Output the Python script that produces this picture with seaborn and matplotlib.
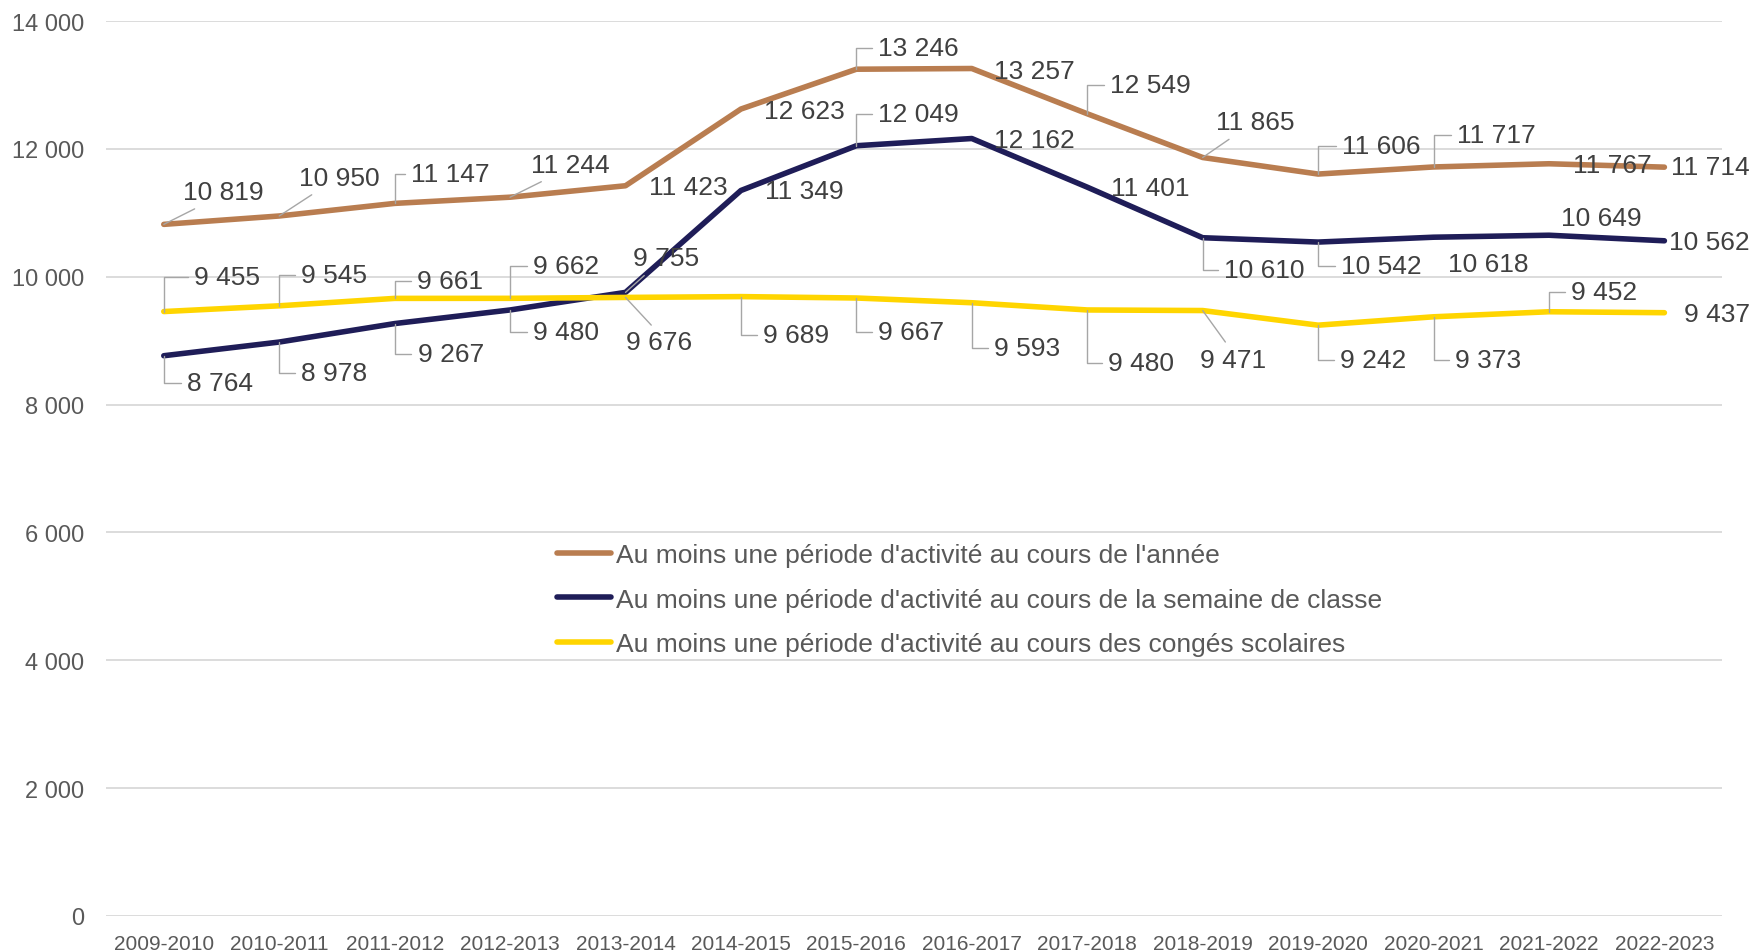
import matplotlib
matplotlib.use('Agg')
import pandas as pd
import matplotlib.pyplot as plt
import seaborn as sns
from matplotlib.ticker import FuncFormatter

# données
saisons = ['2009-2010', '2010-2011', '2011-2012', '2012-2013', '2013-2014', '2014-2015', '2015-2016',
           '2016-2017', '2017-2018', '2018-2019', '2019-2020', '2020-2021', '2021-2022', '2022-2023']
annee = [10819, 10950, 11147, 11244, 11423, 12623, 13246, 13257, 12549, 11865, 11606, 11717, 11767, 11714]
semaine = [8764, 8978, 9267, 9480, 9755, 11349, 12049, 12162, 11401, 10610, 10542, 10618, 10649, 10562]
conges = [9455, 9545, 9661, 9662, 9676, 9689, 9667, 9593, 9480, 9471, 9242, 9373, 9452, 9437]

noms = ["Au moins une période d'activité au cours de l'année",
        "Au moins une période d'activité au cours de la semaine de classe",
        "Au moins une période d'activité au cours des congés scolaires"]
couleurs = ['#B97D50', '#1F1D58', '#FFD500']

# placement des étiquettes : (dx, dy) en pixels, type de trait de rappel
pos_annee = [(60, 32, 'd'), (60, 38, 'd'), (56, 29, 'e'), (60, 32, 'd'), (63, -1, None), (63, -2, None),
             (62, 21, 'e'), (63, -2, None), (63, 29, 'e'), (53, 35, 'd'), (63, 28, 'e'), (63, 32, 'e'),
             (63, -1, None), (46, 0, None)]
pos_semaine = [(56, -27, 'e'), (55, -31, 'e'), (56, -30, 'e'), (56, -22, 'e'), (41, 34, 'd'), (63, -1, None),
               (62, 32, 'e'), (63, -1, None), (63, -1, None), (62, -32, 'e'), (63, -24, 'e'), (55, -27, None),
               (52, 17, None), (45, -1, None)]
pos_conges = [(63, 35, 'e'), (55, 31, 'e'), (55, 17, 'e'), (56, 32, 'e'), (34, -45, 'd'), (55, -38, 'e'),
              (55, -34, 'e'), (55, -45, 'e'), (54, -53, 'e'), (30, -49, 'd'), (55, -35, 'e'), (55, -43, 'e'),
              (55, 20, 'e'), (53, -1, None)]

sns.set_theme(style='white')
plt.rcParams['font.family'] = ['Liberation Sans', 'DejaVu Sans']

df = pd.DataFrame({'saison': saisons, noms[0]: annee, noms[1]: semaine, noms[2]: conges})
df = df.melt(id_vars='saison', var_name='serie', value_name='valeur')

fig = plt.figure(figsize=(17.56, 9.53), dpi=100)
ax = fig.add_axes([0.0604, 0.0378, 0.9203, 0.9391])

sns.lineplot(data=df, x='saison', y='valeur', hue='serie', hue_order=noms, palette=couleurs,
             linewidth=4, sort=False, ax=ax, solid_capstyle='round')

ax.set_xlim(-0.5, len(saisons) - 0.5)
ax.set_ylim(0, 14000)
ax.set_yticks(range(0, 14001, 2000))
ax.yaxis.set_major_formatter(FuncFormatter(lambda v, p: f"{int(v):,}".replace(",", " ")))
ax.grid(axis='y', color='#d9d9d9', linewidth=1.3)
ax.set_axisbelow(True)
for s in ax.spines.values():
    s.set_visible(False)
ax.set_xlabel('')
ax.set_ylabel('')
ax.tick_params(axis='y', length=0, pad=16, labelsize=17, labelcolor='#595959')
ax.tick_params(axis='x', length=0, pad=13, labelsize=15, labelcolor='#595959')

# étiquettes de données
for valeurs, positions in [(annee, pos_annee), (semaine, pos_semaine), (conges, pos_conges)]:
    for i, (v, (dx, dy, trait)) in enumerate(zip(valeurs, positions)):
        props = None
        if trait == 'e':
            props = dict(arrowstyle='-', color='#a6a6a6', lw=1, shrinkA=2, shrinkB=0,
                         relpos=(0, 0.5), connectionstyle='angle,angleA=0,angleB=90,rad=0')
        elif trait == 'd':
            props = dict(arrowstyle='-', color='#a6a6a6', lw=1, shrinkA=2, shrinkB=0,
                         relpos=(0.25, 0) if dy > 0 else (0.45, 1))
        ax.annotate(f"{v:,}".replace(",", " "), xy=(i, v), xytext=(dx, dy), textcoords='offset pixels',
                    ha='center', va='center', fontsize=19, color='#404040', arrowprops=props)

handles, labels = ax.get_legend_handles_labels()
leg = ax.legend(handles, labels, loc='center left', bbox_to_anchor=(0.279, 0.3535), frameon=False,
                fontsize=19, handlelength=2.05, handletextpad=0.2, labelspacing=0.79, borderpad=0,
                borderaxespad=0)
for t in leg.get_texts():
    t.set_color('#595959')
for l in leg.get_lines():
    l.set_linewidth(4)

fig.savefig('out.png', dpi=100)
